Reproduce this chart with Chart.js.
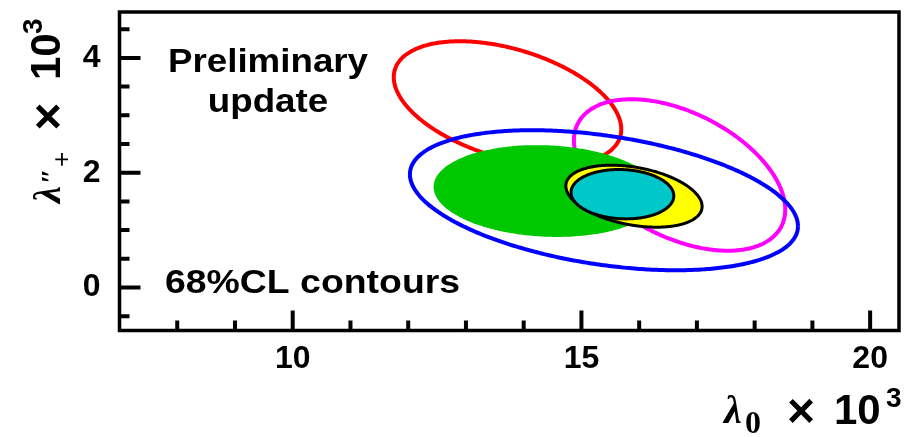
<!DOCTYPE html>
<html>
<head>
<meta charset="utf-8">
<script src="https://cdn.jsdelivr.net/npm/chart.js@4/dist/chart.umd.min.js"></script>
<style>
  html, body { margin: 0; padding: 0; background: #ffffff; }
  canvas { display: block; }
</style>
</head>
<body>
<canvas id="chart" width="912" height="437"></canvas>
<script>
// 68% CL contours in the (lambda0, lambda''+) plane, both x 10^3.
// Each contour: centre, one-sigma half widths and correlation coefficient.
const contourLabels = ['red', 'magenta', 'blue', 'green', 'yellow', 'cyan'];
const centerX = [13.72, 16.70, 15.39, 14.40, 15.91, 15.71];
const centerY = [3.21, 1.96, 1.52, 1.68, 1.59, 1.625];
const sigmaX  = [1.97, 1.83, 3.36, 1.96, 1.18, 0.89];
const sigmaY  = [1.08, 1.32, 1.22, 0.80, 0.54, 0.43];
const rho     = [-0.42, -0.456, -0.37, -0.09, -0.33, -0.07];

// Axis tick labels
const xTickLabels = [10, 15, 20];
const yTickLabels = [0, 2, 4];

// Drawing styles per contour
const contourStyle = [
  { line: '#ff0000', fill: null,      width: 4,   order: 6 },
  { line: '#ff00ff', fill: null,      width: 4,   order: 5 },
  { line: '#0000ff', fill: null,      width: 4,   order: 4 },
  { line: '#00c800', fill: '#00c800', width: 0,   order: 3 },
  { line: '#000000', fill: '#ffff00', width: 3,   order: 2 },
  { line: '#000000', fill: '#00c8c8', width: 3,   order: 1 }
];

const STEPS = 240;
function contourPoints(i) {
  const pts = [];
  const s = Math.sqrt(1 - rho[i] * rho[i]);
  for (let k = 0; k <= STEPS; k++) {
    const t = 2 * Math.PI * k / STEPS;
    pts.push({
      x: centerX[i] + sigmaX[i] * Math.cos(t),
      y: centerY[i] + sigmaY[i] * (rho[i] * Math.cos(t) + s * Math.sin(t))
    });
  }
  return pts;
}

const datasets = contourLabels.map((label, i) => {
  const st = contourStyle[i];
  return {
    label: label,
    data: contourPoints(i),
    showLine: true,
    pointRadius: 0,
    pointHoverRadius: 0,
    // a small tension keeps the closed curves drawn point by point
    tension: 0.2,
    borderJoinStyle: 'round',
    borderColor: st.width > 0 ? st.line : st.fill,
    borderWidth: st.width,
    backgroundColor: st.fill || 'rgba(0,0,0,0)',
    fill: st.fill ? 'shape' : false,
    order: st.order
  };
});

const SANS = "'Liberation Sans', Arial, Helvetica, sans-serif";
const SERIF = "'Liberation Serif', 'DejaVu Serif', 'Times New Roman', serif";

function isLabel(list, v) {
  return list.some(t => Math.abs(t - v) < 1e-6);
}

// Frame and inward tick marks
const framePlugin = {
  id: 'frame',
  afterDatasetsDraw(chart) {
    const { ctx, chartArea: a, scales } = chart;
    ctx.save();
    ctx.strokeStyle = '#000';
    ctx.lineWidth = 4;
    ctx.lineCap = 'butt';
    ctx.beginPath();
    scales.x.ticks.forEach(t => {
      const v = t.value;
      if (Math.abs(v - Math.round(v)) > 1e-6) return;
      if (v <= scales.x.min || v >= scales.x.max) return;
      const px = scales.x.getPixelForValue(v);
      const len = isLabel(xTickLabels, v) ? 20 : 10;
      ctx.moveTo(px, a.bottom);
      ctx.lineTo(px, a.bottom - len);
    });
    scales.y.ticks.forEach(t => {
      const v = t.value;
      if (Math.abs(v * 2 - Math.round(v * 2)) > 1e-6) return;
      if (v <= scales.y.min || v >= scales.y.max) return;
      const py = scales.y.getPixelForValue(v);
      const len = isLabel(yTickLabels, v) ? 21 : 10;
      ctx.moveTo(a.left, py);
      ctx.lineTo(a.left + len, py);
    });
    ctx.stroke();
    ctx.lineWidth = 3.5;
    ctx.strokeRect(a.left, a.top, a.right - a.left, a.bottom - a.top);
    ctx.restore();
  }
};

function drawText(ctx, s, x, y, font, opts = {}) {
  ctx.save();
  ctx.font = font;
  ctx.fillStyle = '#000';
  ctx.textAlign = opts.align || 'left';
  ctx.textBaseline = 'alphabetic';
  ctx.translate(x, y);
  ctx.scale(opts.sx || 1, 1);
  ctx.fillText(s, 0, 0);
  ctx.restore();
}

// Annotations and axis titles
const textPlugin = {
  id: 'texts',
  afterDraw(chart) {
    const ctx = chart.ctx;
    const big = 'bold 34px ' + SANS;
    drawText(ctx, 'Preliminary', 268, 72, big, { align: 'center', sx: 1.08 });
    drawText(ctx, 'update', 268, 112, big, { align: 'center', sx: 1.08 });
    drawText(ctx, '68%CL contours', 165, 293, big, { sx: 1.1 });

    // x title: lambda_0 x 10^3
    drawText(ctx, 'λ', 724, 423, 'bold italic 40px ' + SERIF);
    drawText(ctx, '0', 745, 433, 'bold 32px ' + SERIF);
    drawText(ctx, '×', 801, 427, 'bold 48px ' + SANS, { align: 'center' });
    drawText(ctx, '10', 834, 423.5, 'bold 42px ' + SANS);
    drawText(ctx, '3', 886, 407, 'bold 28px ' + SANS);

    // y title: lambda''_+ x 10^3, rotated
    ctx.save();
    ctx.translate(60, 203);
    ctx.rotate(-Math.PI / 2);
    drawText(ctx, 'λ', 0, 0, 'bold italic 38px ' + SERIF);
    drawText(ctx, '″', 19, 0, 'bold 28px ' + SERIF);
    drawText(ctx, '+', 36, 10, '26px ' + SANS);
    drawText(ctx, '×', 86.5, 4, 'bold 48px ' + SANS, { align: 'center' });
    drawText(ctx, '10', 123, 0, 'bold 42px ' + SANS);
    drawText(ctx, '3', 169, -18, 'bold 28px ' + SANS);
    ctx.restore();
  }
};

function noScalePadding(scale) {
  scale.paddingTop = 0;
  scale.paddingBottom = 0;
  scale.paddingLeft = 0;
  scale.paddingRight = 0;
}

new Chart(document.getElementById('chart'), {
  type: 'scatter',
  data: { datasets: datasets },
  options: {
    responsive: false,
    animation: false,
    devicePixelRatio: 1,
    layout: { padding: { top: 12, right: 13, left: 0, bottom: 0 } },
    plugins: {
      legend: { display: false },
      tooltip: { enabled: false }
    },
    scales: {
      x: {
        type: 'linear',
        min: 7,
        max: 20.5,
        grid: { display: false, drawTicks: false },
        border: { display: false },
        afterFit(scale) { scale.height = 106.5; noScalePadding(scale); },
        ticks: {
          stepSize: 1,
          includeBounds: false,
          autoSkip: false,
          maxRotation: 0,
          padding: 9,
          color: '#000',
          font: { family: SANS, size: 32, weight: 'bold' },
          callback: v => isLabel(xTickLabels, v) ? String(v) : ''
        }
      },
      y: {
        type: 'linear',
        min: -0.75,
        max: 4.8,
        grid: { display: false, drawTicks: false },
        border: { display: false },
        afterFit(scale) { scale.width = 119.5; noScalePadding(scale); },
        ticks: {
          stepSize: 0.5,
          includeBounds: false,
          autoSkip: false,
          padding: 19,
          color: '#000',
          font: { family: SANS, size: 32, weight: 'bold' },
          callback: v => isLabel(yTickLabels, v) ? String(v) : ''
        }
      }
    }
  },
  plugins: [framePlugin, textPlugin]
});
</script>
</body>
</html>
